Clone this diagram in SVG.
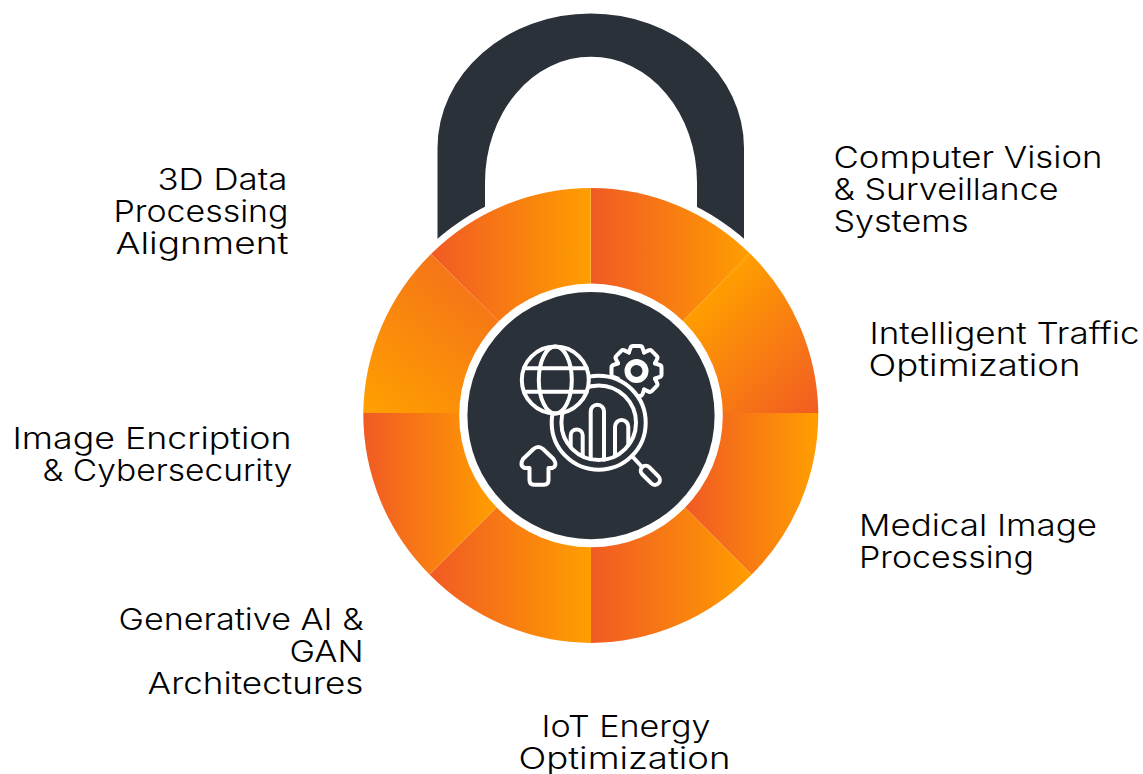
<svg xmlns="http://www.w3.org/2000/svg" xmlns:xlink="http://www.w3.org/1999/xlink" width="1143" height="774" viewBox="0 0 1143 774">
<style>
.lbl{font-family:"Inter","Liberation Sans",sans-serif;font-size:30px;font-weight:300;fill:#000}
.ic{fill:none;stroke:#fff;stroke-width:4;stroke-linecap:round;stroke-linejoin:round}
</style>
<defs>
<linearGradient id="g1" gradientUnits="userSpaceOnUse" x1="431" y1="0" x2="591" y2="0"><stop offset="0" stop-color="#F15A24"/><stop offset="1" stop-color="#FF9E00"/></linearGradient>
<linearGradient id="g2" gradientUnits="userSpaceOnUse" x1="591" y1="0" x2="750" y2="0"><stop offset="0" stop-color="#F15A24"/><stop offset="1" stop-color="#FF9E00"/></linearGradient>
<linearGradient id="g3" gradientUnits="userSpaceOnUse" x1="700" y1="300" x2="818" y2="420"><stop offset="0" stop-color="#FF9E00"/><stop offset="1" stop-color="#F15A24"/></linearGradient>
<linearGradient id="g4" gradientUnits="userSpaceOnUse" x1="686" y1="0" x2="818" y2="0"><stop offset="0" stop-color="#F15A24"/><stop offset="1" stop-color="#FF9E00"/></linearGradient>
<linearGradient id="g5" gradientUnits="userSpaceOnUse" x1="591" y1="0" x2="752" y2="0"><stop offset="0" stop-color="#F15A24"/><stop offset="1" stop-color="#FF9E00"/></linearGradient>
<linearGradient id="g6" gradientUnits="userSpaceOnUse" x1="429" y1="0" x2="591" y2="0"><stop offset="0" stop-color="#F15A24"/><stop offset="1" stop-color="#FF9E00"/></linearGradient>
<linearGradient id="g7" gradientUnits="userSpaceOnUse" x1="363" y1="0" x2="496" y2="0"><stop offset="0" stop-color="#F15A24"/><stop offset="1" stop-color="#FF9E00"/></linearGradient>
<linearGradient id="g8" gradientUnits="userSpaceOnUse" x1="375" y1="413" x2="500" y2="250"><stop offset="0" stop-color="#FF9E00"/><stop offset="1" stop-color="#F26A1E"/></linearGradient>
<path id="tooth" d="M-7.65 -18.5L-6 -23.2Q-5.4 -25 -3.5 -25H3.5Q5.4 -25 6 -23.2L7.65 -18.5"/>
</defs>
<rect width="1143" height="774" fill="#fff"/>
<g id="shackle">
<path d="M437.5 260V148A153.25 134.5 0 0 1 744 148V260H697V182.2A106 125.5 0 0 0 485 182.2V260Z" fill="#2B3139"/>
<circle cx="590.8" cy="415.5" r="234" fill="#fff"/>
</g>
<g id="ring">
<path id="seg-top-left" d="M591 413L431 254A227.5 227.5 0 0 1 590.8 188V413Z" fill="url(#g1)"/>
<path id="seg-top-right" d="M591 413V188A227.5 227.5 0 0 1 750 253.5Z" fill="url(#g2)"/>
<path id="seg-right-upper" d="M591 413L750 253.5A227.5 227.5 0 0 1 818.3 413Z" fill="url(#g3)"/>
<path id="seg-right-lower" d="M591 413H818.3A227.5 227.5 0 0 1 751.7 574.5Z" fill="url(#g4)"/>
<path id="seg-bottom-right" d="M591 413L751.7 574.5A227.5 227.5 0 0 1 590.8 643Z" fill="url(#g5)"/>
<path id="seg-bottom-left" d="M591 413V643A227.5 227.5 0 0 1 429.5 574.5Z" fill="url(#g6)"/>
<path id="seg-left-lower" d="M591 413L429.5 574.5A227.5 227.5 0 0 1 363.3 413Z" fill="url(#g7)"/>
<path id="seg-left-upper" d="M591 413H363.3A227.5 227.5 0 0 1 431 254Z" fill="url(#g8)"/>
</g>
<g id="hub">
<circle cx="591" cy="415.4" r="131.8" fill="#fff"/>
<circle cx="591" cy="415.6" r="123.6" fill="#2B3139"/>
</g>
<g id="icon" class="ic">
<g transform="translate(636.5 371)">
<use xlink:href="#tooth"/>
<use xlink:href="#tooth" transform="rotate(45)"/>
<use xlink:href="#tooth" transform="rotate(90)"/>
<use xlink:href="#tooth" transform="rotate(135)"/>
<use xlink:href="#tooth" transform="rotate(180)"/>
<use xlink:href="#tooth" transform="rotate(270)"/>
<use xlink:href="#tooth" transform="rotate(315)"/>
<circle r="9" stroke-width="6" fill="#2B3139"/>
</g>
<circle cx="598.7" cy="422.7" r="47" fill="#2B3139"/>
<circle cx="598.7" cy="422.7" r="37.3"/>
<path d="M570.7 447.3V435.5a6 6 0 0 1 12 0V456.3"/>
<path d="M590.7 459V411.4a6.65 6.65 0 0 1 13.3 0V459.7"/>
<path d="M615 456.3V426.7a6.65 6.65 0 0 1 13.3 0V445.3"/>
<path d="M632 456L642 467"/>
<rect x="-11.5" y="-5" width="23" height="10" rx="5" transform="translate(650.3 475.3) rotate(45)"/>
<path d="M533.5 449Q538.3 445 543 449L553.5 459Q558 466 552 468H548.5V480Q548.5 484.7 544 484.7H534Q529.5 484.7 529.5 480V468H525Q519 466 523 459Z"/>
<circle cx="555.3" cy="380" r="33.5" fill="#2B3139"/>
<ellipse cx="555.3" cy="380" rx="16.5" ry="33.5"/>
<path d="M523.9 368.3H586.7M523.9 391.7H586.7"/>
</g>
<g id="connectors"></g>
<g id="label-computer-vision" class="lbl">
<text x="833.5" y="168" textLength="269" lengthAdjust="spacingAndGlyphs">Computer Vision</text>
<text x="833.5" y="200" textLength="225" lengthAdjust="spacingAndGlyphs">&amp; Surveillance</text>
<text x="833.5" y="232" textLength="135" lengthAdjust="spacingAndGlyphs">Systems</text>
</g>
<g id="label-traffic" class="lbl">
<text x="869.5" y="343.5" textLength="270" lengthAdjust="spacingAndGlyphs">Intelligent Traffic</text>
<text x="868.5" y="375.5" textLength="212" lengthAdjust="spacingAndGlyphs">Optimization</text>
</g>
<g id="label-medical" class="lbl">
<text x="859" y="535.5" textLength="238" lengthAdjust="spacingAndGlyphs">Medical Image</text>
<text x="859" y="567.5" textLength="175" lengthAdjust="spacingAndGlyphs">Processing</text>
</g>
<g id="label-iot" class="lbl">
<text x="541.5" y="736.5" textLength="169" lengthAdjust="spacingAndGlyphs">IoT Energy</text>
<text x="518.5" y="768.5" textLength="212" lengthAdjust="spacingAndGlyphs">Optimization</text>
</g>
<g id="label-gan" class="lbl">
<text x="118.5" y="629.5" textLength="245" lengthAdjust="spacingAndGlyphs">Generative AI &amp;</text>
<text x="289.5" y="661.5" textLength="74" lengthAdjust="spacingAndGlyphs">GAN</text>
<text x="147.5" y="693.5" textLength="216" lengthAdjust="spacingAndGlyphs">Architectures</text>
</g>
<g id="label-encryption" class="lbl">
<text x="12.5" y="449" textLength="279" lengthAdjust="spacingAndGlyphs">Image Encription</text>
<text x="42.5" y="481" textLength="250" lengthAdjust="spacingAndGlyphs">&amp; Cybersecurity</text>
</g>
<g id="label-3d" class="lbl">
<text x="157.5" y="189.5" textLength="130" lengthAdjust="spacingAndGlyphs">3D Data</text>
<text x="113.5" y="221.5" textLength="175" lengthAdjust="spacingAndGlyphs">Processing</text>
<text x="115.5" y="253.5" textLength="173" lengthAdjust="spacingAndGlyphs">Alignment</text>
</g>
</svg>
